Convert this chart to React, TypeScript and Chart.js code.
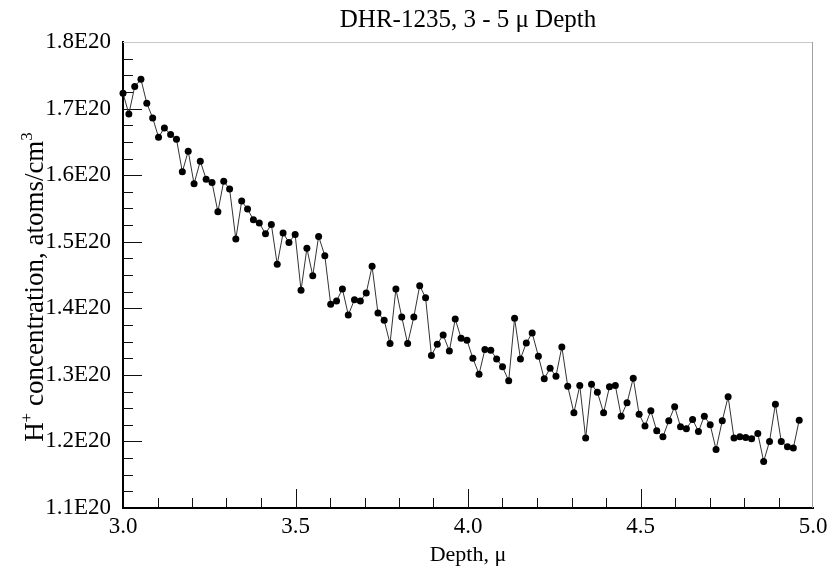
import React, { useEffect, useRef } from "react";
import { Chart, registerables } from "chart.js";

Chart.register(...registerables);

// Depth (μ) of each measurement
const depth: number[] = [
  3.000, 3.017, 3.034, 3.052, 3.069, 3.086, 3.103, 3.120, 3.138, 3.155,
  3.172, 3.189, 3.206, 3.224, 3.241, 3.258, 3.275, 3.292, 3.309, 3.327,
  3.344, 3.361, 3.378, 3.395, 3.413, 3.430, 3.447, 3.464, 3.481, 3.499,
  3.516, 3.533, 3.550, 3.567, 3.585, 3.602, 3.619, 3.636, 3.653, 3.671,
  3.688, 3.705, 3.722, 3.739, 3.757, 3.774, 3.791, 3.808, 3.825, 3.843,
  3.860, 3.877, 3.894, 3.911, 3.928, 3.946, 3.963, 3.980, 3.997, 4.014,
  4.032, 4.049, 4.066, 4.083, 4.100, 4.118, 4.135, 4.152, 4.169, 4.186,
  4.204, 4.221, 4.238, 4.255, 4.272, 4.289, 4.307, 4.324, 4.341, 4.358,
  4.375, 4.393, 4.410, 4.427, 4.444, 4.461, 4.479, 4.496, 4.513, 4.530,
  4.547, 4.565, 4.582, 4.599, 4.616, 4.633, 4.651, 4.668, 4.685, 4.702,
  4.719, 4.737, 4.754, 4.771, 4.788, 4.805, 4.822, 4.840, 4.857, 4.874,
  4.891, 4.908, 4.926, 4.943, 4.960,
];

// H+ concentration, in units of 1E20 atoms/cm3
const concentration: number[] = [
  1.723, 1.692, 1.733, 1.744, 1.708, 1.686, 1.657, 1.671, 1.661, 1.654,
  1.605, 1.636, 1.587, 1.621, 1.594, 1.589, 1.545, 1.591, 1.579, 1.504,
  1.561, 1.549, 1.533, 1.528, 1.512, 1.526, 1.466, 1.513, 1.499, 1.511,
  1.427, 1.490, 1.449, 1.508, 1.479, 1.406, 1.411, 1.429, 1.390, 1.413,
  1.411, 1.423, 1.463, 1.393, 1.382, 1.347, 1.429, 1.387, 1.347, 1.387,
  1.434, 1.416, 1.329, 1.346, 1.360, 1.336, 1.384, 1.355, 1.352, 1.325,
  1.301, 1.338, 1.337, 1.324, 1.312, 1.291, 1.385, 1.324, 1.348, 1.363,
  1.328, 1.294, 1.310, 1.298, 1.342, 1.283, 1.243, 1.284, 1.205, 1.286,
  1.274, 1.243, 1.282, 1.284, 1.238, 1.258, 1.295, 1.241, 1.223, 1.246,
  1.216, 1.207, 1.231, 1.252, 1.222, 1.219, 1.233, 1.215, 1.238, 1.225,
  1.188, 1.231, 1.267, 1.205, 1.207, 1.206, 1.204, 1.212, 1.170, 1.200,
  1.256, 1.200, 1.192, 1.190, 1.232,
];

const yTickLabels: string[] = ["1.1E20", "1.2E20", "1.3E20", "1.4E20", "1.5E20", "1.6E20", "1.7E20", "1.8E20"];
const xTickLabels: string[] = ["3.0", "3.5", "4.0", "4.5", "5.0"];

const chartTitle = "DHR-1235, 3 - 5 \u03bc Depth";
const xAxisTitle = "Depth, \u03bc";
const yAxisTitleParts: { text: string; sup: boolean }[] = [
  { text: "H", sup: false },
  { text: "+", sup: true },
  { text: " concentration, atoms/cm", sup: false },
  { text: "3", sup: true },
];

const SERIF = '"Liberation Serif", "Times New Roman", serif';

const decorPlugin = {
  id: "decor",
  beforeDatasetsDraw(chart: any) {
    const { ctx, chartArea } = chart;
    const { left, right, top, bottom } = chartArea;
    const xs = chart.scales.x;
    const ys = chart.scales.y;
    ctx.save();
    ctx.lineWidth = 1;
    ctx.strokeStyle = "#c8c8c8";
    ctx.beginPath();
    ctx.moveTo(left, top + 0.5);
    ctx.lineTo(right, top + 0.5);
    ctx.stroke();
    ctx.strokeStyle = "#a0a0a0";
    ctx.beginPath();
    ctx.moveTo(right - 0.5, top);
    ctx.lineTo(right - 0.5, bottom);
    ctx.stroke();

    ctx.strokeStyle = "#111";
    for (let k = 1; k < 28; k++) {
      const v = 1.1 + k * 0.025;
      const py = Math.round(ys.getPixelForValue(v)) + 0.5;
      const len = k % 4 === 0 ? 19 : 10;
      ctx.beginPath();
      ctx.moveTo(left, py);
      ctx.lineTo(left + len, py);
      ctx.stroke();
    }
    for (let k = 1; k < 20; k++) {
      const v = 3 + k * 0.1;
      const px = Math.round(xs.getPixelForValue(v)) + 0.5;
      const len = k % 5 === 0 ? 19 : 10;
      ctx.beginPath();
      ctx.moveTo(px, bottom);
      ctx.lineTo(px, bottom - len);
      ctx.stroke();
    }
    ctx.restore();
  },
  afterDraw(chart: any) {
    const { ctx, chartArea } = chart;
    const { left, right, top, bottom } = chartArea;
    ctx.save();
    ctx.fillStyle = "#000";
    ctx.font = `25px ${SERIF}`;
    ctx.textAlign = "center";
    ctx.textBaseline = "alphabetic";
    ctx.fillText(chartTitle, (left + right) / 2, 27);

    // y axis title with superscripts
    const mainFont = `27px ${SERIF}`;
    const supFont = `17px ${SERIF}`;
    let total = 0;
    const widths = yAxisTitleParts.map((p) => {
      ctx.font = p.sup ? supFont : mainFont;
      const w = ctx.measureText(p.text).width;
      total += w;
      return w;
    });
    ctx.translate(43, (top + bottom) / 2 + 12);
    ctx.rotate(-Math.PI / 2);
    ctx.textAlign = "left";
    let cx = -total / 2;
    yAxisTitleParts.forEach((p, i) => {
      ctx.font = p.sup ? supFont : mainFont;
      ctx.fillText(p.text, cx, p.sup ? -11 : 0);
      cx += widths[i];
    });
    ctx.restore();
  },
};

export default function App() {
  const ref = useRef<HTMLCanvasElement | null>(null);

  useEffect(() => {
    if (!ref.current) return;
    const points = depth.map((d, i) => ({ x: d, y: concentration[i] }));
    const chart = new Chart(ref.current, {
      type: "scatter",
      data: {
        datasets: [
          {
            data: points,
            showLine: true,
            borderColor: "#333",
            borderWidth: 1,
            pointRadius: 3.5,
            pointBackgroundColor: "#000",
            pointBorderWidth: 0,
            clip: false as any,
          },
        ],
      },
      options: {
        responsive: false,
        animation: false,
        events: [],
        layout: { padding: { top: 42, right: 0, left: 0, bottom: 0 } },
        plugins: {
          legend: { display: false },
          tooltip: { enabled: false },
          title: { display: false },
        },
        scales: {
          x: {
            type: "linear",
            min: 3,
            max: 5,
            afterFit: (s: any) => {
              s.height = 63;
              s.paddingRight = 14;
            },
            ticks: {
              stepSize: 0.5,
              color: "#000",
              padding: 5,
              font: { family: SERIF, size: 23 },
              callback: (_v: any, i: number) => xTickLabels[i] ?? "",
              maxRotation: 0,
            },
            grid: { display: true, drawOnChartArea: false, drawTicks: false },
            border: { display: true, color: "#000", width: 2 },
            title: {
              display: true,
              text: xAxisTitle,
              color: "#000",
              font: { family: SERIF, size: 22 },
              padding: { top: 0, bottom: 2.5 },
            },
          },
          y: {
            type: "linear",
            min: 1.1,
            max: 1.8,
            afterFit: (s: any) => {
              s.width = 123;
            },
            ticks: {
              stepSize: 0.1,
              color: "#000",
              padding: 12,
              font: { family: SERIF, size: 23 },
              callback: (_v: any, i: number) => yTickLabels[i] ?? "",
            },
            grid: { display: true, drawOnChartArea: false, drawTicks: false },
            border: { display: true, color: "#000", width: 2 },
          },
        },
      },
      plugins: [decorPlugin],
    });
    return () => chart.destroy();
  }, []);

  return (
    <div style={{ position: "absolute", left: 0, top: 0, width: 827, height: 571, background: "#fff" }}>
      <canvas ref={ref} width={827} height={571} style={{ display: "block" }} />
    </div>
  );
}
